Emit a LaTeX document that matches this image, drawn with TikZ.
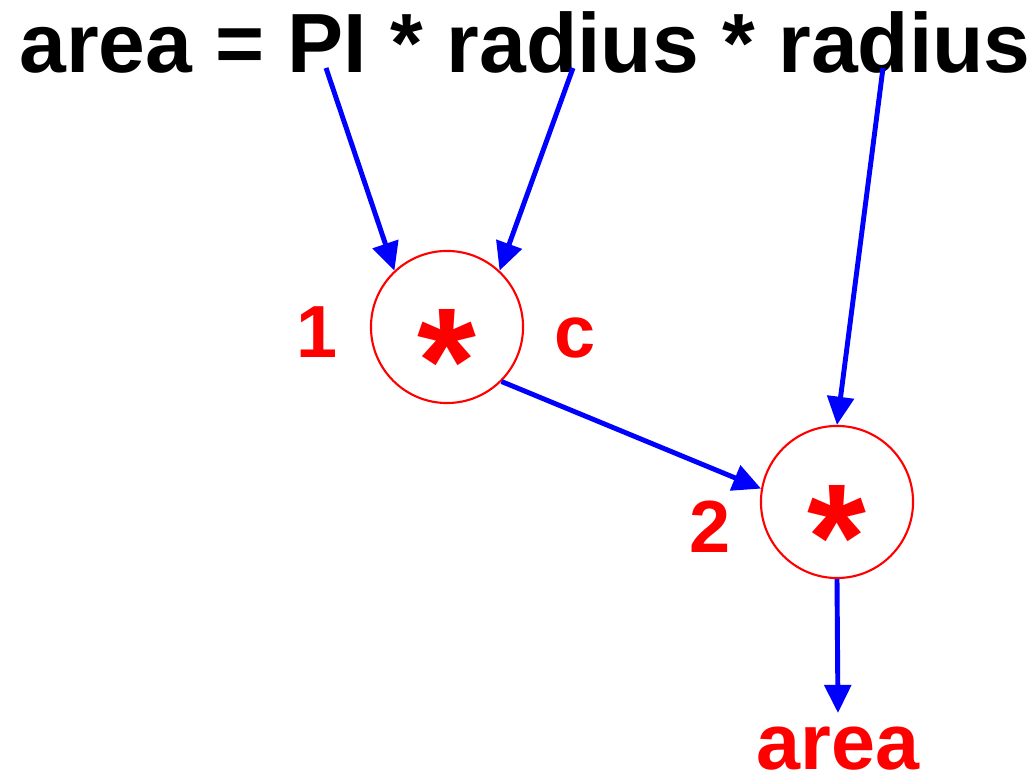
\documentclass[tikz,border=0pt]{standalone}
\usepackage{fontspec}
\setmainfont{Liberation Sans}
\usetikzlibrary{arrows.meta}
\definecolor{lred}{RGB}{255,0,0}
\definecolor{lblue}{RGB}{0,0,255}
\tikzset{
  op/.style={circle,draw=lred,line width=0.6pt,minimum size=1.52cm,inner sep=0pt},
  lbl/.style={text=lred,font=\fontsize{21}{21}\selectfont\bfseries,inner sep=0pt,anchor=base},
  star/.style={text=lred,font=\fontsize{43}{43}\selectfont\bfseries,inner sep=0pt,anchor=base},
  flow/.style={draw=lblue,line width=1.4pt,-{Triangle[length=8pt,width=7.5pt]}},
}
\begin{document}
\begin{tikzpicture}[x=0.01cm,y=-0.01cm]
\useasboundingbox (0,0) rectangle (1036,780);
\node[inner sep=0pt,anchor=base,font=\fontsize{23.9}{24}\selectfont\bfseries] (title) at (525,73) {area = PI * radius * radius};
\coordinate (s1) at (326,68);
\coordinate (s2) at (573,68);
\coordinate (s3) at (883,68);
\node[op] (m1) at (447,327) {};
\node[op] (m2) at (837,502) {};
\node[star] (st1) at (447,414) {*};
\node[star] (st2) at (837,590) {*};
\node[lbl] (n1) at (317,358) {1};
\node[lbl] (c) at (575,358) {c};
\node[lbl] (n2) at (710,553) {2};
\node[lbl,font=\fontsize{22.5}{22.5}\selectfont\bfseries] (out) at (838,770) {area};
\draw[flow] (s1) -- (m1.133);
\draw[flow] (s2) -- (m1.47);
\draw[flow] (s3) -- (m2.north);
\draw[flow] (m1.-45) -- (m2.170);
\draw[flow] (m2.south) -- (out.north |- 0,713);
\end{tikzpicture}
\end{document}
